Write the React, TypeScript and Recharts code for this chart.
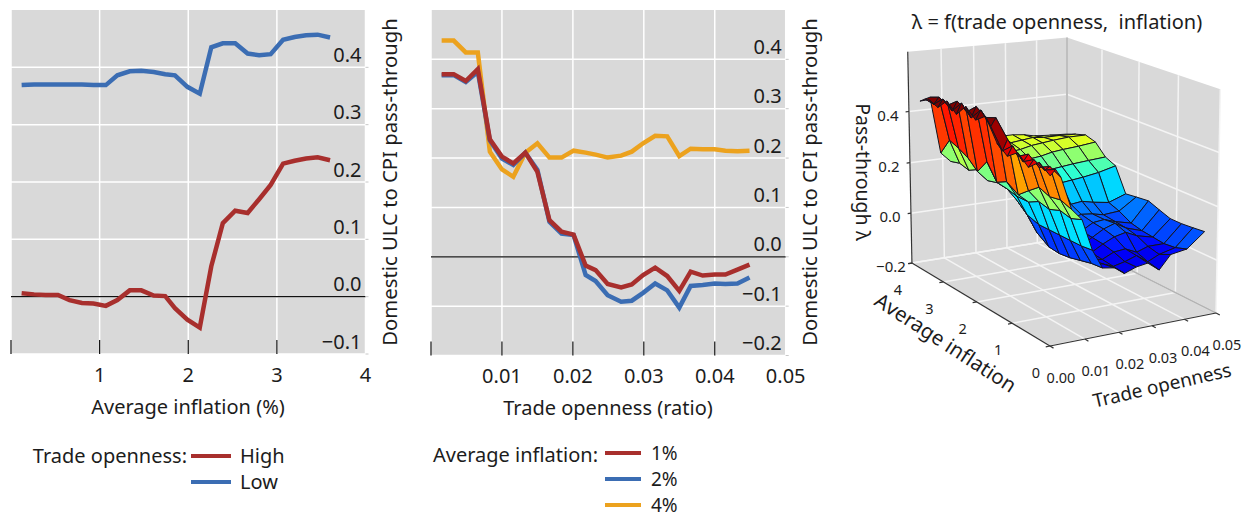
import { CartesianGrid, Line, LineChart, ReferenceLine, Scatter, ScatterChart, XAxis, YAxis } from "recharts";

const FONT = "'Noto Sans', sans-serif";
const TEXT = "#1c1c1c";
const RED = "#a82f2d";
const BLUE = "#3b6db3";
const ORANGE = "#eca21e";
const PANE = "#d9d9d9";

// left panel: pass-through against inflation
const inflationX = [0.12, 0.26, 0.39, 0.53, 0.66, 0.8, 0.93, 1.07, 1.2, 1.34, 1.47, 1.61, 1.74, 1.85, 1.99, 2.13, 2.26, 2.39, 2.53, 2.67, 2.8, 2.93, 3.07, 3.2, 3.33, 3.46, 3.6];
const highOpenness = [0.006, 0.004, 0.003, 0.003, -0.006, -0.011, -0.012, -0.016, -0.006, 0.011, 0.011, 0.002, 0.001, -0.02, -0.04, -0.054, 0.053, 0.128, 0.15, 0.146, 0.17, 0.195, 0.232, 0.237, 0.241, 0.243, 0.238];
const lowOpenness = [0.369, 0.37, 0.37, 0.37, 0.37, 0.37, 0.369, 0.369, 0.386, 0.393, 0.394, 0.392, 0.388, 0.386, 0.366, 0.354, 0.435, 0.442, 0.442, 0.424, 0.421, 0.423, 0.448, 0.453, 0.456, 0.457, 0.452];
const inflationTicks = [0, 1, 2, 3, 4];
const leftValueTicks = [-0.1, 0, 0.1, 0.2, 0.3, 0.4];

// middle panel: pass-through against trade openness
const opennessX = [0.0015, 0.0032, 0.0049, 0.0066, 0.0083, 0.01, 0.0116, 0.0133, 0.015, 0.0167, 0.0184, 0.0201, 0.0218, 0.0232, 0.0249, 0.0268, 0.0283, 0.0299, 0.0316, 0.0333, 0.035, 0.0366, 0.0383, 0.04, 0.0415, 0.0432, 0.0449];
const inflation1 = [0.37, 0.37, 0.356, 0.38, 0.238, 0.203, 0.189, 0.211, 0.172, 0.074, 0.051, 0.045, -0.018, -0.027, -0.055, -0.062, -0.056, -0.037, -0.022, -0.039, -0.069, -0.03, -0.038, -0.036, -0.036, -0.026, -0.016];
const inflation2 = [0.368, 0.368, 0.354, 0.375, 0.236, 0.199, 0.186, 0.211, 0.176, 0.071, 0.047, 0.044, -0.037, -0.049, -0.078, -0.091, -0.089, -0.073, -0.054, -0.068, -0.103, -0.059, -0.057, -0.054, -0.055, -0.054, -0.042];
const inflation4 = [0.438, 0.438, 0.414, 0.414, 0.213, 0.177, 0.162, 0.211, 0.23, 0.201, 0.201, 0.215, 0.211, 0.207, 0.201, 0.205, 0.213, 0.23, 0.245, 0.244, 0.204, 0.219, 0.218, 0.218, 0.215, 0.214, 0.215];
const opennessTicks = [0, 0.01, 0.02, 0.03, 0.04, 0.05];
const middleValueTicks = [-0.2, -0.1, 0, 0.1, 0.2, 0.3, 0.4];

// right panel: surface, rows run from low to high inflation
const surfaceOpenness = [0.0015, 0.003, 0.0045, 0.0075, 0.0105, 0.0135, 0.0165, 0.02, 0.023, 0.0265, 0.03, 0.0335, 0.037, 0.042, 0.0475];
const surfaceInflation = [0.12, 0.4, 0.68, 0.96, 1.24, 1.52, 1.84, 2.12, 2.4, 2.68, 2.96, 3.24, 3.52, 3.8];
const surfaceValues = [
  [0.39, 0.41, 0.38, 0.262, 0.22, 0.105, 0.034, 0.027, 0, 0.016, 0.023, -0.01, 0.04, 0.05, 0.104],
  [0.42, 0.39, 0.4, 0.277, 0.205, 0.1, 0.03, 0.02, 0.005, 0.015, 0.03, 0, 0.02, 0.035, 0.099],
  [0.385, 0.41, 0.38, 0.27, 0.215, 0.1, 0.02, 0.015, 0.01, 0.03, 0.035, 0.015, 0.03, 0.03, 0.095],
  [0.42, 0.385, 0.41, 0.286, 0.2, 0.1, 0.01, 0.01, 0.015, 0.04, 0.06, 0.07, 0.05, 0.035, 0.095],
  [0.39, 0.425, 0.385, 0.255, 0.21, 0.1, 0.005, 0.01, 0.02, 0.045, 0.07, 0.085, 0.06, 0.04, 0.11],
  [0.42, 0.39, 0.43, 0.222, 0.19, 0.1, 0.01, 0.015, 0.03, 0.05, 0.075, 0.08, 0.065, 0.05, 0.126],
  [0.5, 0.46, 0.49, 0.25, 0.19, 0.115, 0.04, 0.04, 0.05, 0.07, 0.085, 0.08, 0.07, 0.075, 0.12],
  [0.47, 0.505, 0.475, 0.23, 0.2, 0.15, 0.09, 0.085, 0.085, 0.1, 0.105, 0.11, 0.1, 0.09, 0.114],
  [0.505, 0.46, 0.5, 0.29, 0.205, 0.23, 0.17, 0.16, 0.16, 0.165, 0.17, 0.175, 0.18, 0.19, 0.207],
  [0.46, 0.5, 0.465, 0.235, 0.195, 0.235, 0.205, 0.195, 0.195, 0.2, 0.205, 0.21, 0.215, 0.22, 0.225],
  [0.495, 0.455, 0.49, 0.27, 0.22, 0.25, 0.235, 0.23, 0.23, 0.235, 0.24, 0.25, 0.255, 0.26, 0.268],
  [0.455, 0.485, 0.46, 0.29, 0.2, 0.26, 0.255, 0.25, 0.25, 0.255, 0.265, 0.27, 0.275, 0.28, 0.28],
  [0.47, 0.45, 0.475, 0.305, 0.21, 0.265, 0.26, 0.26, 0.265, 0.265, 0.27, 0.275, 0.27, 0.27, 0.267],
  [0.449, 0.455, 0.46, 0.238, 0.2, 0.27, 0.265, 0.265, 0.27, 0.275, 0.275, 0.27, 0.26, 0.255, 0.251],
];
const boxOpennessTicks = [0, 0.01, 0.02, 0.03, 0.04, 0.05];
const boxInflationTicks = [0, 1, 2, 3, 4];
const boxValueTicks = [-0.2, 0, 0.2, 0.4];
const levelStops = [-0.02, 0, 0.03, 0.05, 0.08, 0.11, 0.17, 0.22, 0.26, 0.3, 0.335, 0.37, 0.4, 0.46];
const levelFractions = [0.08, 0.1, 0.12, 0.17, 0.22, 0.27, 0.37, 0.47, 0.57, 0.65, 0.75, 0.82, 0.9, 1];

const leftRows = inflationX.map((x, i) => ({ x, high: highOpenness[i], low: lowOpenness[i] }));
const middleRows = opennessX.map((x, i) => ({ x, one: inflation1[i], two: inflation2[i], four: inflation4[i] }));

const PANEL_LEFT_OFFSET = 850;
const BOX_TOP = 0.63;
const LINE_WIDTH = 4.5;

// matplotlib style perspective of the box, x/y/z to page pixels
function project(x: number, y: number, z: number) {
  const u = x / 0.05;
  const v = y / 4;
  const t = (z + 0.2) / (BOX_TOP + 0.2);
  const w = 1 + 0.0629 * u + 0.1314 * v - 0.03 * t;
  return {
    x: (1050 + 242.5 * u - 18.2 * v - 32 * t) / w - PANEL_LEFT_OFFSET,
    y: (346 - 13.3 * u - 48.4 * v - 240.5 * t) / w,
    depth: w,
  };
}

function jet(f: number) {
  const c = (a: number) => Math.round(255 * Math.min(1, Math.max(0, 1.5 - Math.abs(4 * f - a))));
  return `rgb(${c(3)},${c(2)},${c(1)})`;
}

function levelOf(z: number) {
  if (z <= levelStops[0]) return levelFractions[0];
  for (let i = 1; i < levelStops.length; i++) {
    if (z <= levelStops[i]) {
      const k = (z - levelStops[i - 1]) / (levelStops[i] - levelStops[i - 1]);
      return levelFractions[i - 1] + k * (levelFractions[i] - levelFractions[i - 1]);
    }
  }
  return 1;
}

const cells: { corners: ReturnType<typeof project>[]; fill: string; depth: number }[] = [];
surfaceValues.slice(0, -1).forEach((row, j) => {
  row.slice(0, -1).forEach((_, i) => {
    const ids = [[i, j], [i + 1, j], [i + 1, j + 1], [i, j + 1]];
    const corners = ids.map(([a, b]) => project(surfaceOpenness[a], surfaceInflation[b], surfaceValues[b][a]));
    const mean = ids.reduce((s, [a, b]) => s + surfaceValues[b][a], 0) / 4;
    cells.push({ corners, fill: jet(levelOf(mean)), depth: corners.reduce((s, c) => s + c.depth, 0) / 4 });
  });
});
cells.sort((a, b) => b.depth - a.depth);
const cellPoints = cells.flatMap((c) => c.corners);
const cellFills = cells.map((c) => c.fill);

const panePoints = [
  project(0, 0, -0.2), project(0.05, 0, -0.2), project(0.05, 4, -0.2), project(0, 4, -0.2),
  project(0, 4, -0.2), project(0.05, 4, -0.2), project(0.05, 4, BOX_TOP), project(0, 4, BOX_TOP),
  project(0.05, 4, -0.2), project(0.05, 0, -0.2), project(0.05, 0, BOX_TOP), project(0.05, 4, BOX_TOP),
];

const gridPoints = [
  ...boxOpennessTicks.flatMap((x) => [project(x, 0, -0.2), project(x, 4, -0.2), project(x, 4, -0.2), project(x, 4, BOX_TOP)]),
  ...boxInflationTicks.flatMap((y) => [project(0, y, -0.2), project(0.05, y, -0.2), project(0.05, y, -0.2), project(0.05, y, BOX_TOP)]),
  ...boxValueTicks.flatMap((z) => [project(0, 4, z), project(0.05, 4, z), project(0.05, 4, z), project(0.05, 0, z)]),
];

const edgePoints = [
  project(0.05, 4, -0.2), project(0.05, 4, BOX_TOP),
  project(0.05, 4, -0.2), project(0.05, 0, -0.2),
];

const axisPoints = [
  project(0, 0, -0.2), project(0.05, 0, -0.2),
  project(0, 0, -0.2), project(0, 4, -0.2),
  project(0, 4, -0.2), project(0, 4, BOX_TOP),
  ...boxOpennessTicks.flatMap((x) => [project(x, 0, -0.2), project(x, -0.09, -0.2)]),
  ...boxInflationTicks.flatMap((y) => [project(0, y, -0.2), project(-0.0012, y, -0.2)]),
  ...boxValueTicks.flatMap((z) => [project(0, 4, z), project(-0.001, 4, z)]),
];

type BoxLabel = { x: number; y: number; text: string; size: number; rotate?: number };

const boxLabels: BoxLabel[] = [
  ...boxOpennessTicks.map((v) => {
    const p = project(v, 0, -0.2);
    return { x: p.x + 11, y: p.y + 31, text: v.toFixed(2), size: 14.5 };
  }),
  ...boxInflationTicks.map((v) => {
    const p = project(0, v, -0.2);
    return { x: p.x - 14, y: p.y + 26, text: String(v), size: 14.5 };
  }),
  ...boxValueTicks.map((v) => {
    const p = project(0, 4, v);
    return { x: p.x - 21, y: p.y + 3, text: v < 0 ? `\u2212${Math.abs(v).toFixed(1)}` : v.toFixed(1), size: 15 };
  }),
  { x: 207, y: 21, text: "\u03bb = f(trade openness,  inflation)", size: 20 },
  { x: 312, y: 385, text: "Trade openness", size: 19, rotate: -13 },
  { x: 96, y: 342, text: "Average inflation", size: 20.5, rotate: 33 },
  { x: 13, y: 172, text: "Pass-through \u03bb", size: 19.5, rotate: 90 },
];

const polygonLayer = (fills: string[] | string, stroke: string) => (props: any) => {
  const quads = [];
  for (let i = 0; i + 3 < props.points.length; i += 4) quads.push(props.points.slice(i, i + 4));
  return (
    <g>
      {quads.map((q: any[], i: number) => (
        <polygon
          key={i}
          points={q.map((p) => `${p.x},${p.y}`).join(" ")}
          fill={typeof fills === "string" ? fills : fills[i]}
          stroke={stroke}
          strokeWidth={1}
          strokeLinejoin="round"
        />
      ))}
    </g>
  );
};

const segmentLayer = (stroke: string, width: number) => (props: any) => {
  const segments = [];
  for (let i = 0; i + 1 < props.points.length; i += 2) segments.push(props.points.slice(i, i + 2));
  return (
    <g>
      {segments.map((s: any[], i: number) => (
        <line key={i} x1={s[0].x} y1={s[0].y} x2={s[1].x} y2={s[1].y} stroke={stroke} strokeWidth={width} />
      ))}
    </g>
  );
};

const noDot = () => <g />;

const labelShape = (props: any) => {
  const { cx, cy, payload } = props;
  return (
    <text
      x={cx}
      y={cy}
      textAnchor="middle"
      dominantBaseline="central"
      fontFamily={FONT}
      fontSize={payload.size}
      fill={TEXT}
      xmlSpace="preserve"
      transform={payload.rotate ? `rotate(${payload.rotate} ${cx} ${cy})` : undefined}
    >
      {payload.text}
    </text>
  );
};

function SurfacePanel() {
  return (
    <div style={{ position: "absolute", left: PANEL_LEFT_OFFSET, top: 0 }}>
      <ScatterChart width={406} height={519} margin={{ top: 0, right: 0, bottom: 0, left: 0 }}>
        <XAxis type="number" dataKey="x" domain={[0, 406]} hide />
        <YAxis type="number" dataKey="y" domain={[0, 519]} reversed hide />
        <Scatter data={panePoints} shape={noDot} line={polygonLayer(PANE, "none")} isAnimationActive={false} />
        <Scatter data={gridPoints} shape={noDot} line={segmentLayer("#f4f4f4", 1.5)} isAnimationActive={false} />
        <Scatter data={edgePoints} shape={noDot} line={segmentLayer("#b4b4b4", 1.6)} isAnimationActive={false} />
        <Scatter data={axisPoints} shape={noDot} line={segmentLayer("#333333", 1.2)} isAnimationActive={false} />
        <Scatter data={cellPoints} shape={noDot} line={polygonLayer(cellFills, "#14141e")} isAnimationActive={false} />
        <Scatter data={boxLabels} shape={labelShape} isAnimationActive={false} />
      </ScatterChart>
    </div>
  );
}

const PLOT_TOP = 10;

function formatValue(v: number) {
  return v < 0 ? `\u2212${Math.abs(v).toFixed(1)}` : v.toFixed(1);
}

const makeXTick = (bottom: number, last: number, digits: number) => (props: any) => {
  const { x, payload } = props;
  const v = payload.value;
  return (
    <g>
      {v !== last && <line x1={x} x2={x} y1={bottom - 14} y2={bottom} stroke="#111111" strokeWidth={1.2} />}
      {v !== 0 && (
        <text x={x} y={bottom + 20} textAnchor="middle" dominantBaseline="central" fontFamily={FONT} fontSize={20} fill={TEXT}>
          {v.toFixed(digits)}
        </text>
      )}
    </g>
  );
};

const makeYTick = (right: number) => (props: any) => {
  const { y, payload } = props;
  return (
    <g>
      <line x1={right} x2={right + 3} y1={y} y2={y} stroke="#c8c8c8" strokeWidth={1} />
      <text x={right - 4} y={y - 13} textAnchor="end" dominantBaseline="central" fontFamily={FONT} fontSize={20} fill={TEXT}>
        {formatValue(payload.value)}
      </text>
    </g>
  );
};

function SideTitle({ x, y, text }: { x: number; y: number; text: string }) {
  return (
    <div
      style={{
        position: "absolute",
        left: x,
        top: y,
        transform: "translate(-50%, -50%) rotate(-90deg)",
        fontFamily: FONT,
        fontSize: 20.3,
        color: TEXT,
        whiteSpace: "nowrap",
      }}
    >
      {text}
    </div>
  );
}

function Label({ x, y, text, align = "left", size = 20 }: { x: number; y: number; text: string; align?: string; size?: number }) {
  const shift = align === "right" ? "-100%" : align === "center" ? "-50%" : "0";
  return (
    <div
      style={{
        position: "absolute",
        left: x,
        top: y,
        transform: `translate(${shift}, -50%)`,
        fontFamily: FONT,
        fontSize: size,
        lineHeight: "18px",
        color: TEXT,
        whiteSpace: "nowrap",
      }}
    >
      {text}
    </div>
  );
}

function Key({ x, y, width, color }: { x: number; y: number; width: number; color: string }) {
  return <div style={{ position: "absolute", left: x, top: y - 2, width, height: 4, background: color }} />;
}

export default function App() {
  return (
    <div style={{ position: "absolute", left: 0, top: 0, width: 1256, height: 519, background: "#ffffff", overflow: "hidden" }}>
      <div style={{ position: "absolute", left: 0, top: 0 }}>
        <LineChart width={410} height={440} data={leftRows} margin={{ top: PLOT_TOP, left: 11, right: 43.5, bottom: 85 }}>
          <CartesianGrid fill={PANE} stroke="#ffffff" strokeWidth={1.5} horizontalValues={leftValueTicks} verticalValues={inflationTicks} />
          <XAxis type="number" dataKey="x" domain={[0, 4]} ticks={inflationTicks} interval={0} height={1} axisLine={false} tickLine={false} tick={makeXTick(354, 4, 0)} />
          <YAxis type="number" orientation="right" domain={[-0.1, 0.5]} ticks={leftValueTicks} interval={0} width={1} axisLine={false} tickLine={false} tick={makeYTick(365.5)} />
          <ReferenceLine y={0} stroke="#111111" strokeWidth={1.2} />
          <Line dataKey="low" stroke={BLUE} strokeWidth={LINE_WIDTH} dot={false} isAnimationActive={false} />
          <Line dataKey="high" stroke={RED} strokeWidth={LINE_WIDTH} dot={false} isAnimationActive={false} />
        </LineChart>
      </div>
      <div style={{ position: "absolute", left: 420, top: 0 }}>
        <LineChart width={420} height={440} data={middleRows} margin={{ top: PLOT_TOP, left: 11, right: 53.3, bottom: 83.5 }}>
          <CartesianGrid fill={PANE} stroke="#ffffff" strokeWidth={1.5} horizontalValues={middleValueTicks} verticalValues={opennessTicks} />
          <XAxis type="number" dataKey="x" domain={[0, 0.05]} ticks={opennessTicks} interval={0} height={1} axisLine={false} tickLine={false} tick={makeXTick(355.5, 0.05, 2)} />
          <YAxis type="number" orientation="right" domain={[-0.2, 0.5]} ticks={middleValueTicks} interval={0} width={1} axisLine={false} tickLine={false} tick={makeYTick(365.7)} />
          <ReferenceLine y={0} stroke="#111111" strokeWidth={1.2} />
          <Line dataKey="four" stroke={ORANGE} strokeWidth={LINE_WIDTH} dot={false} isAnimationActive={false} />
          <Line dataKey="two" stroke={BLUE} strokeWidth={LINE_WIDTH} dot={false} isAnimationActive={false} />
          <Line dataKey="one" stroke={RED} strokeWidth={LINE_WIDTH} dot={false} isAnimationActive={false} />
        </LineChart>
      </div>
      <SurfacePanel />

      <SideTitle x={389} y={182} text="Domestic ULC to CPI pass-through" />
      <SideTitle x={809} y={182} text="Domestic ULC to CPI pass-through" />
      <Label x={188} y={407} align="center" text="Average inflation (%)" />
      <Label x={608} y={408} align="center" text="Trade openness (ratio)" />

      <Label x={187} y={456} align="right" text="Trade openness:" />
      <Key x={191} y={456} width={40} color={RED} />
      <Label x={240} y={456} text="High" />
      <Key x={191} y={482} width={40} color={BLUE} />
      <Label x={240} y={482} text="Low" />

      <Label x={598} y={455} align="right" text="Average inflation:" />
      <Key x={605} y={453} width={36} color={RED} />
      <Label x={651} y={453} size={19} text="1%" />
      <Key x={605} y={479} width={36} color={BLUE} />
      <Label x={651} y={479} size={19} text="2%" />
      <Key x={605} y={505} width={36} color={ORANGE} />
      <Label x={651} y={505} size={19} text="4%" />
    </div>
  );
}
